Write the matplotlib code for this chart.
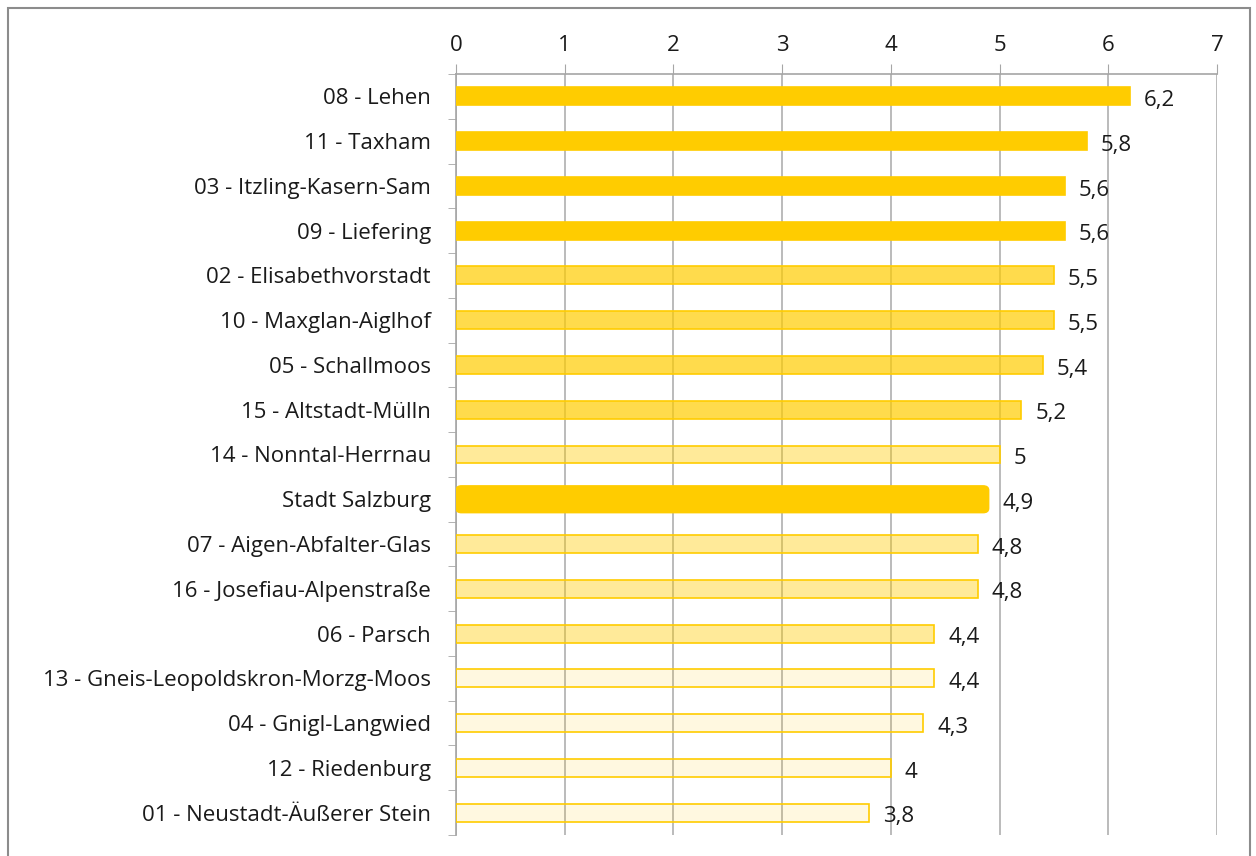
import matplotlib
matplotlib.use("Agg")
import matplotlib.pyplot as plt
from matplotlib.patches import FancyBboxPatch, Rectangle

categories = ["08 - Lehen", "11 - Taxham", "03 - Itzling-Kasern-Sam", "09 - Liefering",
              "02 - Elisabethvorstadt", "10 - Maxglan-Aiglhof", "05 - Schallmoos",
              "15 - Altstadt-Mülln", "14 - Nonntal-Herrnau", "Stadt Salzburg",
              "07 - Aigen-Abfalter-Glas", "16 - Josefiau-Alpenstraße", "06 - Parsch",
              "13 - Gneis-Leopoldskron-Morzg-Moos", "04 - Gnigl-Langwied",
              "12 - Riedenburg", "01 - Neustadt-Äußerer Stein"]
values = [6.2, 5.8, 5.6, 5.6, 5.5, 5.5, 5.4, 5.2, 5.0, 4.9, 4.8, 4.8, 4.4, 4.4, 4.3, 4.0, 3.8]
labels = ["6,2", "5,8", "5,6", "5,6", "5,5", "5,5", "5,4", "5,2", "5", "4,9",
          "4,8", "4,8", "4,4", "4,4", "4,3", "4", "3,8"]
# shade level: 0 dark, 1 medium, 2 light, 3 lightest
levels = [0, 0, 0, 0, 1, 1, 1, 1, 2, 0, 2, 2, 2, 3, 3, 3, 3]
xticks = [0, 1, 2, 3, 4, 5, 6, 7]

level_alpha = {0: 1.0, 1: 0.7, 2: 0.4, 3: 0.12}
base = (1.0, 0.8, 0.0)
FS = 16

plt.rcParams['font.family'] = ['Open Sans', 'DejaVu Sans']
fig = plt.figure(figsize=(12.56, 8.56), dpi=100)
ax = fig.add_axes([456/1256, 1 - 835/856, (1217 - 456)/1256, (835 - 74)/856])

n = len(categories)
ys = list(range(n))
for y, v, lev, cat in zip(ys, values, levels, categories):
    if cat == "Stadt Salzburg":
        h = 0.6
        p = FancyBboxPatch((0, y - h/2), v, h,
                           boxstyle="round,pad=0,rounding_size=0.05",
                           mutation_aspect=2.0,
                           facecolor=base, edgecolor=base, linewidth=1, zorder=3)
        ax.add_patch(p)
    else:
        h = 0.4
        ax.barh(y, v, height=h, color=(*base, level_alpha[lev]),
                edgecolor=base, linewidth=1.2, zorder=3)

for y, v, lab in zip(ys, values, labels):
    ax.annotate(lab, (v, y), xytext=(10, -3), textcoords='offset points',
                va='center', ha='left', fontsize=FS, color='#1a1a1a', zorder=5)

ax.set_xlim(0, 7)
ax.set_ylim(n - 0.5, -0.5)
ax.set_xticks(xticks)
ax.set_xticklabels([str(t) for t in xticks])
ax.xaxis.tick_top()
ax.tick_params(axis='x', which='major', length=7, color='#a6a6a6',
               labelsize=FS, labelcolor='#1a1a1a', pad=6, direction='out')
ax.grid(axis='x', color='#a6a6a6', linewidth=1.2, zorder=4, alpha=0.9)
ax.set_axisbelow(False)

ax.set_yticks(ys)
ax.set_yticklabels(categories)
ax.set_yticks([i - 0.5 for i in range(n + 1)], minor=True)
ax.tick_params(axis='y', which='major', length=0, labelsize=FS,
               labelcolor='#1a1a1a', pad=18)
ax.tick_params(axis='y', which='minor', length=6, color='#a6a6a6', direction='out')

for s in ['right', 'bottom']:
    ax.spines[s].set_visible(False)
for s in ['top', 'left']:
    ax.spines[s].set_color('#a6a6a6')
    ax.spines[s].set_linewidth(1.2)

fig.patches.append(Rectangle((8/1256, -0.1), (1250 - 8)/1256, 1.1 - 8/856,
                             transform=fig.transFigure, fill=False,
                             edgecolor='#8c8c8c', linewidth=1.5))

fig.savefig("out.png", dpi=100)
